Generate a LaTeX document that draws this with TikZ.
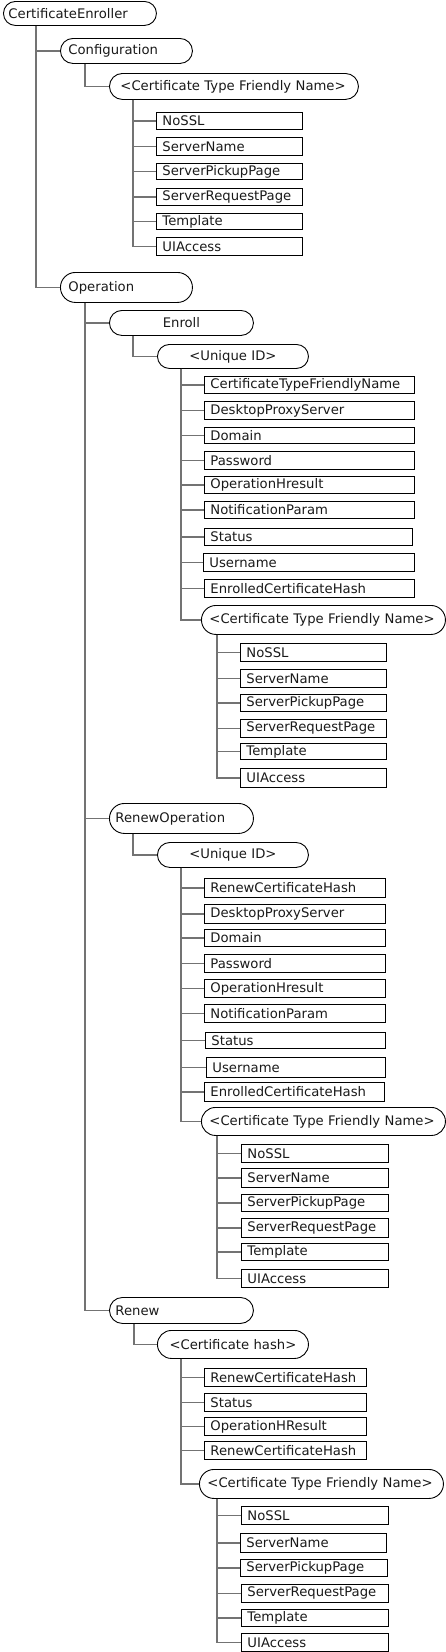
\documentclass[tikz,border=0pt]{standalone}
\usepackage{fontspec}
\setmainfont{DejaVu Sans}
\begin{document}
\begin{tikzpicture}[x=1pt,y=-1pt,
  boxbase/.style={draw=black, line width=0.9pt, inner ysep=0pt, font=\fontsize{13.2}{14}\selectfont, text=black!90},
  leafbox/.style={boxbase, inner xsep=6pt},
  pillbox/.style={boxbase},
  conn/.style={draw=black!55, line width=1.4pt}]
\useasboundingbox (0,0) rectangle (446,1652);
\newcommand\leafnode[6]{%
  \pgfmathsetmacro\lw{#4-#2-12}\pgfmathsetmacro\lh{#5-#3}%
  \node[leafbox, text width=\lw pt, minimum height=\lh pt, align=left, anchor=north west] (#1) at (#2,#3) {\mbox{#6}};}
% name, x1, y1, x2, y2, padding, align, text
\newcommand\pillnode[8]{%
  \pgfmathsetmacro\lw{#4-#2-2*#6}\pgfmathsetmacro\lh{#5-#3}\pgfmathsetmacro\lr{(#5-#3)/2}%
  \node[pillbox, inner xsep=#6pt, text width=\lw pt, minimum height=\lh pt, rounded corners=\lr pt, align=#7, anchor=north west] (#1) at (#2,#3) {\mbox{#8}};}

% ---------------- nodes ----------------
\pillnode{ce}{3}{1}{156}{25}{5}{left}{CertificateEnroller}
\pillnode{config}{60}{38}{192}{63}{8}{left}{Configuration}
\pillnode{ctfna}{109}{73}{358}{99}{11}{left}{<Certificate Type Friendly Name>}
\leafnode{ca}{156}{112}{302}{129}{NoSSL}
\leafnode{cb}{156}{137}{302}{155}{ServerName}
\leafnode{cc}{156}{163}{302}{179}{ServerPickupPage}
\leafnode{cd}{156}{188}{302}{205}{ServerRequestPage}
\leafnode{cf}{156}{213}{302}{229}{Template}
\leafnode{cg}{156}{237}{302}{255}{UIAccess}

\pillnode{op}{60}{272}{192}{302}{8}{left}{Operation}
\pillnode{enroll}{109}{310}{253}{335}{8}{center}{Enroll}
\pillnode{uida}{157}{344}{308}{368}{8}{center}{<Unique ID>}
\leafnode{ea}{204}{376}{414}{393}{CertificateTypeFriendlyName}
\leafnode{eb}{204}{401}{414}{419}{DesktopProxyServer}
\leafnode{ec}{204}{427}{414}{443}{Domain}
\leafnode{ed}{204}{451}{414}{469}{Password}
\leafnode{ee}{204}{476}{414}{493}{OperationHresult}
\leafnode{ef}{204}{501}{414}{518}{NotificationParam}
\leafnode{eg}{204}{528}{412}{545}{Status}
\leafnode{eh}{203}{553}{414}{571}{Username}
\leafnode{ei}{204}{579}{414}{597}{EnrolledCertificateHash}
\pillnode{ctfnb}{201}{605}{445}{634}{8}{left}{<Certificate Type Friendly Name>}
\leafnode{fa}{240}{643}{386}{661}{NoSSL}
\leafnode{fb}{240}{669}{386}{687}{ServerName}
\leafnode{fc}{240}{694}{386}{711}{ServerPickupPage}
\leafnode{fd}{240}{719}{386}{737}{ServerRequestPage}
\leafnode{fe}{240}{743}{386}{759}{Template}
\leafnode{ff}{240}{768}{386}{787}{UIAccess}

\pillnode{renop}{109}{803}{253}{833}{6}{left}{RenewOperation}
\pillnode{uidb}{157}{842}{308}{867}{8}{center}{<Unique ID>}
\leafnode{ga}{204}{878}{385}{897}{RenewCertificateHash}
\leafnode{gb}{204}{904}{385}{923}{DesktopProxyServer}
\leafnode{gc}{204}{929}{385}{946}{Domain}
\leafnode{gd}{204}{954}{385}{972}{Password}
\leafnode{ge}{204}{979}{385}{997}{OperationHresult}
\leafnode{gf}{204}{1004}{385}{1022}{NotificationParam}
\leafnode{gg}{205}{1032}{385}{1048}{Status}
\leafnode{gh}{206}{1057}{385}{1077}{Username}
\leafnode{gi}{204}{1082}{384}{1101}{EnrolledCertificateHash}
\pillnode{ctfnc}{201}{1107}{445}{1135}{8}{left}{<Certificate Type Friendly Name>}
\leafnode{ha}{241}{1144}{388}{1162}{NoSSL}
\leafnode{hb}{241}{1168}{388}{1187}{ServerName}
\leafnode{hc}{241}{1194}{388}{1211}{ServerPickupPage}
\leafnode{hd}{241}{1218}{388}{1237}{ServerRequestPage}
\leafnode{he}{241}{1243}{388}{1260}{Template}
\leafnode{hf}{241}{1269}{388}{1287}{UIAccess}

\pillnode{renew}{109}{1297}{253}{1323}{6}{left}{Renew}
\pillnode{chash}{157}{1330}{308}{1358}{8}{center}{<Certificate hash>}
\leafnode{ia}{204}{1368}{366}{1386}{RenewCertificateHash}
\leafnode{ib}{204}{1393}{366}{1411}{Status}
\leafnode{ic}{204}{1417}{366}{1435}{OperationHResult}
\leafnode{id}{204}{1441}{366}{1459}{RenewCertificateHash}
\pillnode{ctfnd}{199}{1469}{443}{1498}{8}{left}{<Certificate Type Friendly Name>}
\leafnode{ja}{241}{1506}{388}{1524}{NoSSL}
\leafnode{jb}{240}{1533}{386}{1552}{ServerName}
\leafnode{jc}{240}{1559}{387}{1576}{ServerPickupPage}
\leafnode{jd}{241}{1584}{388}{1602}{ServerRequestPage}
\leafnode{je}{241}{1609}{388}{1626}{Template}
\leafnode{jf}{241}{1633}{388}{1651}{UIAccess}

% ---------------- connectors ----------------
\foreach \c in {config,op}
  \draw[conn] ([xshift=33pt]ce.south west) |- (\c.west);
\draw[conn] ([xshift=25pt]config.south west) |- (ctfna.west);
\foreach \c in {ca,cb,cc,cd,cf,cg}
  \draw[conn] ([xshift=24pt]ctfna.south west) |- (\c.west);
\foreach \c in {enroll,renop,renew}
  \draw[conn] ([xshift=25pt]op.south west) |- (\c.west);
\draw[conn] ([xshift=24pt]enroll.south west) |- (uida.west);
\foreach \c in {ea,eb,ec,ed,ee,ef,eg,eh,ei,ctfnb}
  \draw[conn] ([xshift=24pt]uida.south west) |- (\c.west);
\foreach \c in {fa,fb,fc,fd,fe,ff}
  \draw[conn] ([xshift=16pt]ctfnb.south west) |- (\c.west);
\draw[conn] ([xshift=24pt]renop.south west) |- (uidb.west);
\foreach \c in {ga,gb,gc,gd,ge,gf,gg,gh,gi,ctfnc}
  \draw[conn] ([xshift=24pt]uidb.south west) |- (\c.west);
\foreach \c in {ha,hb,hc,hd,he,hf}
  \draw[conn] ([xshift=16pt]ctfnc.south west) |- (\c.west);
\draw[conn] ([xshift=25pt]renew.south west) |- (chash.west);
\foreach \c in {ia,ib,ic,id,ctfnd}
  \draw[conn] ([xshift=24pt]chash.south west) |- (\c.west);
\foreach \c in {ja,jb,jc,jd,je,jf}
  \draw[conn] ([xshift=18pt]ctfnd.south west) |- (\c.west);
\end{tikzpicture}
\end{document}
